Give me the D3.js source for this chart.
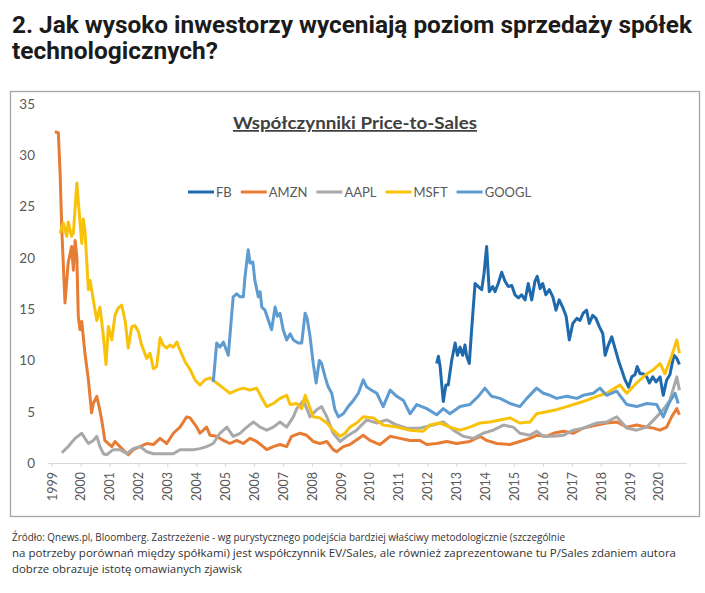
<!DOCTYPE html>
<html>
<head>
<meta charset="utf-8">
<script src="https://cdn.jsdelivr.net/npm/d3@7"></script>
<style>
  body { margin: 0; background: #fff; }
</style>
</head>
<body>
<div id="chart"></div>
<script>
// Title, footer and labels
const headline = [
  "2. Jak wysoko inwestorzy wyceniają poziom sprzedaży spółek",
  "technologicznych?"
];
const footnote = [
  "Źródło: Qnews.pl, Bloomberg. Zastrzeżenie - wg purystycznego podejścia bardziej właściwy metodologicznie (szczególnie",
  "na potrzeby porównań między spółkami) jest współczynnik EV/Sales, ale również zaprezentowane tu P/Sales zdaniem autora",
  "dobrze obrazuje istotę omawianych zjawisk"
];
const chartTitle = "Współczynniki Price-to-Sales";
const yearTicks = d3.range(1999, 2021);
const valueTicks = [0, 5, 10, 15, 20, 25, 30, 35];
const names = ["FB", "AMZN", "AAPL", "MSFT", "GOOGL"];
const colors = ["#1f6aad", "#e77c34", "#a9a9a9", "#f9c20a", "#5e9bd0"];

// P/S values as [year, value]
const fb = [
  [2012.32, 9.7], [2012.38, 10.4], [2012.44, 9.4], [2012.55, 6.0], [2012.64, 7.6], [2012.72, 7.6],
  [2012.84, 10.0], [2012.96, 11.7], [2013.04, 10.5], [2013.13, 11.3], [2013.22, 10.5], [2013.30, 11.5],
  [2013.36, 10.4], [2013.45, 9.7], [2013.53, 13.0], [2013.65, 17.5], [2013.76, 17.2], [2013.88, 16.9],
  [2013.96, 18.5], [2014.05, 21.1], [2014.14, 16.7], [2014.26, 17.2], [2014.34, 16.7], [2014.45, 17.5],
  [2014.57, 18.6], [2014.69, 17.7], [2014.80, 17.2], [2014.92, 17.3], [2015.03, 16.4], [2015.15, 16.1],
  [2015.26, 16.4], [2015.38, 15.9], [2015.49, 17.5], [2015.61, 15.9], [2015.72, 17.7], [2015.80, 18.2],
  [2015.90, 17.0], [2015.99, 17.5], [2016.10, 16.4], [2016.22, 16.9], [2016.34, 16.2], [2016.45, 14.9],
  [2016.56, 15.9], [2016.68, 15.2], [2016.80, 14.3], [2016.91, 12.0], [2017.03, 13.6], [2017.17, 14.1],
  [2017.28, 13.9], [2017.39, 14.6], [2017.51, 14.9], [2017.60, 13.6], [2017.72, 14.4], [2017.83, 14.1],
  [2017.95, 13.3], [2018.07, 12.6], [2018.15, 10.5], [2018.26, 11.5], [2018.38, 12.3], [2018.49, 11.2],
  [2018.61, 10.0], [2018.72, 9.1], [2018.84, 8.1], [2018.96, 7.4], [2019.07, 8.4], [2019.18, 8.6],
  [2019.26, 9.4], [2019.36, 8.7], [2019.47, 8.7], [2019.59, 8.4], [2019.68, 7.8], [2019.80, 8.4],
  [2019.91, 7.9], [2020.05, 8.4], [2020.16, 6.6], [2020.28, 8.1], [2020.39, 8.6], [2020.53, 10.5],
  [2020.63, 10.2], [2020.72, 9.6]
];
const amzn = [
  [1999.11, 32.3], [1999.23, 32.2], [1999.29, 28.3], [1999.35, 22.7], [1999.46, 15.6], [1999.57, 19.5],
  [1999.69, 21.1], [1999.75, 18.8], [1999.81, 21.7], [1999.87, 20.1], [1999.92, 14.3], [1999.98, 13.0],
  [2000.04, 13.8], [2000.15, 10.7], [2000.27, 8.1], [2000.38, 4.9], [2000.44, 5.8], [2000.56, 6.5],
  [2000.64, 5.5], [2000.73, 4.2], [2000.84, 2.2], [2000.96, 1.9], [2001.08, 1.6], [2001.19, 2.1],
  [2001.36, 1.6], [2001.54, 1.1], [2001.65, 0.8], [2001.82, 1.3], [2002.06, 1.6], [2002.29, 1.9],
  [2002.52, 1.8], [2002.75, 2.4], [2002.98, 1.9], [2003.21, 2.9], [2003.44, 3.5], [2003.67, 4.5],
  [2003.79, 4.4], [2004.02, 3.5], [2004.13, 2.9], [2004.36, 3.5], [2004.48, 2.7], [2004.71, 2.6],
  [2004.94, 2.2], [2005.17, 1.9], [2005.40, 2.2], [2005.63, 1.9], [2005.86, 2.4], [2006.09, 2.1],
  [2006.32, 1.6], [2006.44, 1.3], [2006.67, 1.6], [2006.90, 1.8], [2007.13, 1.6], [2007.30, 2.6],
  [2007.59, 2.9], [2007.82, 2.7], [2008.05, 2.1], [2008.28, 1.9], [2008.52, 2.1], [2008.74, 1.3],
  [2008.86, 1.1], [2009.09, 1.6], [2009.32, 1.8], [2009.78, 2.7], [2010.01, 2.2], [2010.36, 1.8],
  [2010.71, 2.6], [2011.05, 2.4], [2011.40, 2.2], [2011.74, 2.2], [2011.98, 1.8], [2012.32, 1.9],
  [2012.67, 2.1], [2013.01, 1.9], [2013.47, 2.1], [2013.82, 2.6], [2014.05, 2.2], [2014.40, 1.9],
  [2014.86, 1.8], [2015.20, 2.1], [2015.55, 2.4], [2015.78, 2.7], [2016.13, 2.6], [2016.36, 2.9],
  [2016.70, 3.1], [2017.05, 2.9], [2017.39, 3.4], [2017.86, 3.7], [2018.20, 3.9], [2018.55, 4.0],
  [2018.90, 3.5], [2019.24, 3.7], [2019.59, 3.5], [2019.82, 3.4], [2020.05, 3.2], [2020.28, 3.5],
  [2020.45, 4.5], [2020.63, 5.3], [2020.72, 4.7]
];
const aapl = [
  [1999.35, 1.0], [1999.57, 1.6], [1999.81, 2.4], [2000.04, 2.9], [2000.15, 2.4], [2000.27, 1.9],
  [2000.44, 2.2], [2000.56, 2.6], [2000.67, 1.6], [2000.79, 0.9], [2000.90, 0.8], [2001.13, 1.3],
  [2001.36, 1.3], [2001.60, 0.9], [2001.82, 1.4], [2002.06, 1.6], [2002.29, 1.1], [2002.52, 0.9],
  [2002.75, 0.9], [2002.98, 0.9], [2003.21, 0.9], [2003.44, 1.3], [2003.67, 1.3], [2003.90, 1.3],
  [2004.13, 1.4], [2004.36, 1.6], [2004.59, 1.9], [2004.82, 2.9], [2005.06, 3.5], [2005.28, 2.6],
  [2005.52, 2.9], [2005.75, 3.5], [2005.98, 4.0], [2006.21, 3.5], [2006.44, 3.2], [2006.67, 3.5],
  [2006.90, 4.0], [2007.13, 3.5], [2007.36, 4.5], [2007.48, 5.3], [2007.71, 6.1], [2007.94, 4.5],
  [2008.17, 5.2], [2008.34, 5.5], [2008.52, 4.5], [2008.74, 2.9], [2008.98, 2.1], [2009.21, 2.6],
  [2009.55, 3.2], [2009.90, 4.2], [2010.25, 3.9], [2010.59, 4.2], [2010.94, 3.7], [2011.28, 3.4],
  [2011.74, 3.4], [2012.20, 3.7], [2012.55, 4.0], [2012.90, 3.2], [2013.24, 2.6], [2013.59, 2.4],
  [2013.93, 2.9], [2014.28, 3.2], [2014.63, 3.7], [2014.97, 3.5], [2015.20, 2.9], [2015.55, 2.7],
  [2015.78, 3.1], [2016.01, 2.6], [2016.36, 2.6], [2016.70, 2.7], [2017.05, 3.2], [2017.39, 3.4],
  [2017.86, 3.9], [2018.20, 4.0], [2018.55, 4.5], [2018.90, 3.4], [2019.24, 3.2], [2019.59, 3.5],
  [2019.93, 4.5], [2020.16, 5.2], [2020.39, 6.1], [2020.63, 8.4], [2020.72, 7.1]
];
const msft = [
  [1999.29, 22.4], [1999.40, 23.4], [1999.52, 22.1], [1999.57, 23.5], [1999.69, 22.1], [1999.75, 22.4],
  [1999.87, 27.3], [1999.98, 23.4], [2000.04, 21.4], [2000.09, 23.8], [2000.15, 22.7], [2000.27, 16.9],
  [2000.33, 17.8], [2000.44, 15.9], [2000.56, 13.9], [2000.67, 15.2], [2000.79, 12.3], [2000.88, 9.6],
  [2000.96, 13.3], [2001.08, 12.0], [2001.19, 14.4], [2001.30, 15.1], [2001.42, 15.4], [2001.54, 13.9],
  [2001.65, 11.2], [2001.77, 13.3], [2001.88, 13.4], [2002.00, 12.8], [2002.11, 11.5], [2002.29, 10.2],
  [2002.40, 10.7], [2002.52, 9.2], [2002.63, 9.4], [2002.75, 12.2], [2002.86, 11.5], [2002.98, 11.2],
  [2003.09, 11.5], [2003.21, 11.3], [2003.33, 11.8], [2003.44, 11.0], [2003.61, 9.9], [2003.79, 9.1],
  [2003.96, 8.1], [2004.13, 7.6], [2004.30, 8.1], [2004.48, 8.3], [2004.71, 7.8], [2004.94, 7.3],
  [2005.17, 6.8], [2005.40, 7.1], [2005.63, 7.3], [2005.86, 7.1], [2006.09, 7.3], [2006.32, 6.1],
  [2006.44, 5.5], [2006.67, 5.8], [2006.90, 6.3], [2007.13, 6.6], [2007.25, 5.7], [2007.48, 5.8],
  [2007.65, 5.3], [2007.77, 6.6], [2007.88, 5.8], [2008.05, 4.5], [2008.28, 4.4], [2008.52, 3.9],
  [2008.74, 3.2], [2008.98, 2.6], [2009.15, 2.9], [2009.32, 3.5], [2009.55, 3.9], [2009.78, 4.5],
  [2010.13, 4.4], [2010.47, 3.7], [2010.94, 3.5], [2011.40, 3.2], [2011.86, 3.1], [2012.09, 3.7],
  [2012.44, 3.9], [2012.78, 3.5], [2013.13, 3.2], [2013.47, 3.5], [2013.82, 3.9], [2014.17, 4.0],
  [2014.51, 4.2], [2014.86, 4.4], [2015.20, 3.9], [2015.55, 4.0], [2015.78, 4.8], [2016.13, 5.0],
  [2016.47, 5.2], [2016.82, 5.5], [2017.17, 5.8], [2017.51, 6.1], [2017.86, 6.5], [2018.20, 6.8],
  [2018.66, 7.6], [2018.90, 6.8], [2019.24, 7.8], [2019.59, 8.7], [2019.82, 9.1], [2020.05, 9.7],
  [2020.22, 8.7], [2020.45, 10.4], [2020.63, 12.0], [2020.72, 10.7]
];
const googl = [
  [2004.59, 7.9], [2004.71, 11.7], [2004.82, 11.3], [2004.94, 11.8], [2005.11, 10.5], [2005.28, 16.2],
  [2005.40, 16.5], [2005.52, 16.2], [2005.63, 16.2], [2005.69, 18.2], [2005.80, 20.8], [2005.86, 19.5],
  [2005.96, 19.6], [2006.03, 17.8], [2006.15, 16.2], [2006.21, 16.7], [2006.27, 15.2], [2006.38, 14.9],
  [2006.50, 13.9], [2006.61, 13.0], [2006.73, 15.2], [2006.81, 14.3], [2006.90, 14.6], [2007.01, 13.0],
  [2007.13, 12.0], [2007.25, 12.6], [2007.36, 12.0], [2007.53, 11.7], [2007.65, 11.7], [2007.77, 14.6],
  [2007.84, 14.1], [2007.94, 12.3], [2008.05, 9.7], [2008.15, 7.8], [2008.26, 10.0], [2008.34, 9.7],
  [2008.46, 8.4], [2008.57, 7.4], [2008.69, 6.8], [2008.80, 5.2], [2008.92, 4.5], [2009.09, 4.8],
  [2009.26, 5.5], [2009.44, 6.1], [2009.61, 6.8], [2009.78, 8.1], [2009.90, 7.4], [2010.07, 7.1],
  [2010.25, 6.8], [2010.47, 5.5], [2010.71, 7.1], [2010.94, 6.5], [2011.17, 6.1], [2011.40, 4.8],
  [2011.63, 5.7], [2011.98, 5.3], [2012.32, 4.7], [2012.55, 5.3], [2012.78, 4.8], [2013.13, 5.5],
  [2013.47, 5.7], [2013.76, 6.5], [2013.99, 7.3], [2014.22, 6.5], [2014.51, 6.3], [2014.86, 5.8],
  [2015.20, 5.5], [2015.44, 6.3], [2015.78, 7.3], [2016.01, 6.8], [2016.24, 6.6], [2016.47, 6.3],
  [2016.82, 6.5], [2017.17, 6.3], [2017.39, 6.6], [2017.74, 6.8], [2017.97, 7.3], [2018.20, 6.6],
  [2018.55, 7.0], [2018.90, 5.7], [2019.24, 5.5], [2019.59, 5.8], [2019.93, 5.7], [2020.16, 4.5],
  [2020.39, 6.0], [2020.57, 6.8], [2020.68, 5.8]
];
const seriesData = [fb, amzn, aapl, msft, googl];

// Set up dimensions
const width = 705, height = 593;
const svg = d3.select("#chart").append("svg").attr("width", width).attr("height", height);

// Headline above the chart
const headLengths = [680, 206];
svg.selectAll(".headline")
  .data(headline)
  .join("text")
  .attr("class", "headline")
  .attr("x", 12)
  .attr("y", (d, i) => 33 + i * 26)
  .attr("textLength", (d, i) => headLengths[i])
  .attr("lengthAdjust", "spacingAndGlyphs")
  .style("font-family", "Roboto, 'Open Sans', sans-serif")
  .style("font-size", "23px")
  .style("font-weight", "bold")
  .style("fill", "#1b1b1b")
  .text(d => d);

// Chart frame
svg.append("rect")
  .attr("x", 10.5).attr("y", 91.5)
  .attr("width", 689).attr("height", 425)
  .style("fill", "none")
  .style("stroke", "#a6a6a6")
  .style("stroke-width", 1.3);

// Scales
const x = d3.scaleLinear().domain([1999, 2020]).range([51.7, 658.6]);
const y = d3.scaleLinear().domain([0, 35]).range([463, 104]);

// Y axis (labels only)
const yAxis = svg.append("g")
  .attr("transform", "translate(36,0)")
  .call(d3.axisLeft(y).tickValues(valueTicks).tickSize(0).tickPadding(1));
yAxis.select(".domain").remove();
yAxis.selectAll("text")
  .style("font-family", "Lato, 'Open Sans', sans-serif")
  .style("font-size", "13.5px")
  .style("fill", "#595959");

// X axis
const xAxis = svg.append("g")
  .attr("transform", `translate(0,${y(0)})`)
  .call(d3.axisBottom(x).tickValues(yearTicks).tickFormat(d3.format("d")).tickSize(4).tickSizeOuter(0));
xAxis.select(".domain")
  .attr("d", `M${x(1998.88)},0.5H${x(2020.98)}`)
  .style("stroke", "#d9d9d9");
xAxis.selectAll(".tick line").style("stroke", "#d9d9d9");
xAxis.selectAll("text")
  .attr("transform", "rotate(-90)")
  .attr("x", -9)
  .attr("y", 0)
  .attr("dy", "0.35em")
  .attr("text-anchor", "end")
  .style("font-family", "Lato, 'Open Sans', sans-serif")
  .style("font-size", "12.5px")
  .style("fill", "#595959");

// Series lines
const line = d3.line().x(d => x(d[0])).y(d => y(d[1]));
svg.append("g")
  .selectAll("path")
  .data(seriesData)
  .join("path")
  .attr("d", line)
  .style("fill", "none")
  .style("stroke", (d, i) => colors[i])
  .style("stroke-width", 3)
  .style("stroke-linejoin", "round");

// Chart title
svg.append("text")
  .attr("x", 355)
  .attr("y", 129)
  .attr("text-anchor", "middle")
  .attr("textLength", 244)
  .attr("lengthAdjust", "spacingAndGlyphs")
  .style("font-family", "Lato, 'Open Sans', sans-serif")
  .style("font-size", "17.5px")
  .style("font-weight", "bold")
  .style("text-decoration", "underline")
  .style("fill", "#404040")
  .text(chartTitle);

// Legend
const legend = svg.append("g").attr("transform", "translate(188,192)");
let lx = 0;
names.forEach((name, i) => {
  legend.append("line")
    .attr("x1", lx).attr("x2", lx + 26)
    .attr("y1", 0).attr("y2", 0)
    .style("stroke", colors[i])
    .style("stroke-width", 3);
  const t = legend.append("text")
    .attr("x", lx + 28)
    .attr("dy", "0.35em")
    .style("font-family", "Lato, 'Open Sans', sans-serif")
    .style("font-size", "13px")
    .style("fill", "#595959")
    .text(name);
  lx += 28 + t.node().getComputedTextLength() + 9;
});

// Footnote
const footLengths = [553, 664, 230];
svg.selectAll(".foot")
  .data(footnote)
  .join("text")
  .attr("class", "foot")
  .attr("x", 12)
  .attr("y", (d, i) => 541 + i * 16)
  .attr("textLength", (d, i) => footLengths[i])
  .attr("lengthAdjust", "spacingAndGlyphs")
  .style("font-family", "'Liberation Sans Narrow', 'Open Sans', sans-serif")
  .style("font-size", "11.5px")
  .style("fill", "#333")
  .text(d => d);
</script>
</body>
</html>
